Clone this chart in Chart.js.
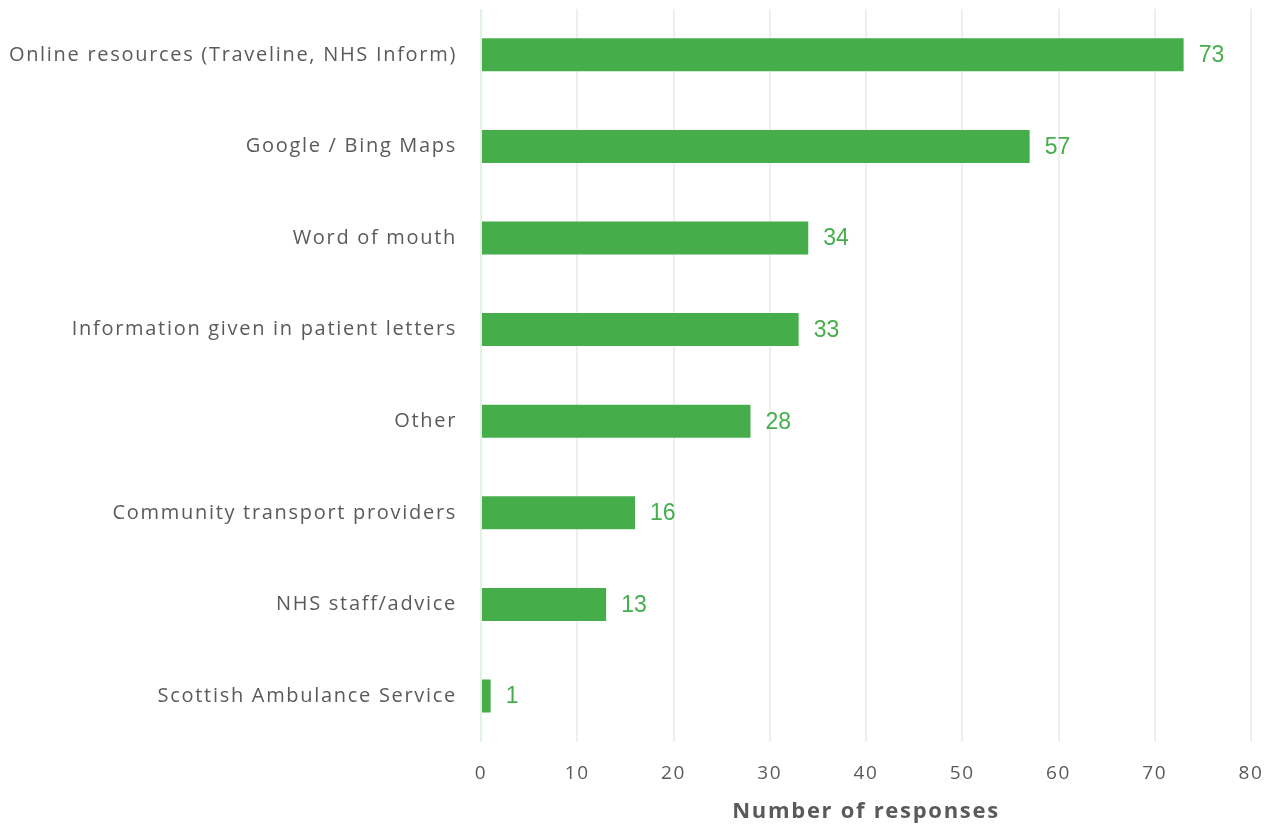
<!DOCTYPE html>
<html>
<head>
<meta charset="utf-8">
<script src="https://cdn.jsdelivr.net/npm/chart.js@4"></script>
<style>
  html, body { margin: 0; padding: 0; background: #fff; }
  #wrap { width: 1278px; height: 825px; }
</style>
</head>
<body>
<div id="wrap"><canvas id="sources-chart"></canvas></div>
<script>
var categories = [
  'Online resources (Traveline, NHS Inform)',
  'Google / Bing Maps',
  'Word of mouth',
  'Information given in patient letters',
  'Other',
  'Community transport providers',
  'NHS staff/advice',
  'Scottish Ambulance Service'
];
var responses = [73, 57, 34, 33, 28, 16, 13, 1];
var xTicks = [0, 10, 20, 30, 40, 50, 60, 70, 80];

var green = '#45ae4b';
var textGrey = '#5a5a5a';
var uiFont = '"Open Sans", Lato, sans-serif';

// slightly tracked-out lettering for the axis text
var spacing = {
  id: 'spacing',
  beforeUpdate: function (chart) { chart.ctx.letterSpacing = '1.7px'; },
  beforeDraw: function (chart) { chart.ctx.letterSpacing = '1.7px'; }
};

// writes the count just past the end of each bar
var valueLabels = {
  id: 'valueLabels',
  afterDatasetsDraw: function (chart) {
    var ctx = chart.ctx;
    var meta = chart.getDatasetMeta(0);
    ctx.save();
    ctx.letterSpacing = '0px';
    ctx.font = '23px "Liberation Sans", Arial, sans-serif';
    ctx.fillStyle = green;
    ctx.textAlign = 'left';
    ctx.textBaseline = 'middle';
    meta.data.forEach(function (bar, i) {
      ctx.fillText(String(responses[i]), bar.x + 15, bar.y + 1);
    });
    ctx.restore();
  }
};

var ctx = document.getElementById('sources-chart').getContext('2d');
new Chart(ctx, {
  type: 'bar',
  data: {
    labels: categories,
    datasets: [{
      label: 'Number of responses',
      data: responses,
      backgroundColor: green,
      borderWidth: 0,
      categoryPercentage: 1,
      barPercentage: 0.36
    }]
  },
  options: {
    indexAxis: 'y',
    responsive: true,
    maintainAspectRatio: false,
    animation: false,
    layout: { padding: { top: 9, right: 27, left: 9, bottom: 0 } },
    plugins: {
      legend: { display: false },
      tooltip: { enabled: false }
    },
    scales: {
      x: {
        min: 0,
        max: 80,
        afterBuildTicks: function (axis) {
          axis.ticks = xTicks.map(function (v) { return { value: v }; });
        },
        afterFit: function (scale) {
          scale.paddingLeft = 0;
          scale.paddingRight = 0;
        },
        grid: {
          drawTicks: false,
          lineWidth: 2,
          color: function (c) { return c.tick && c.tick.value === 0 ? '#e2f2e3' : '#efefef'; }
        },
        border: { display: false },
        ticks: {
          color: textGrey,
          padding: 20,
          font: { family: uiFont, size: 19 }
        },
        title: {
          display: true,
          text: 'Number of responses',
          color: textGrey,
          padding: { top: -6, bottom: 0 },
          font: { family: uiFont, size: 22, weight: 'bold' }
        }
      },
      y: {
        grid: { display: false, drawTicks: false },
        border: { display: false },
        afterFit: function (scale) {
          scale.paddingTop = 0;
          scale.paddingBottom = 0;
          scale.width = 472;
        },
        ticks: {
          color: textGrey,
          padding: 24,
          font: { family: uiFont, size: 20 }
        }
      }
    }
  },
  plugins: [spacing, valueLabels]
});
</script>
</body>
</html>
